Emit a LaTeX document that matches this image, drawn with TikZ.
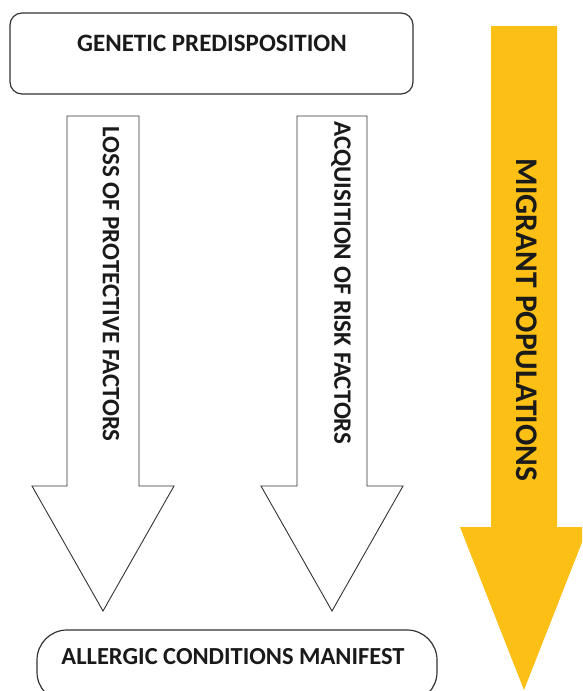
\documentclass[tikz,border=0pt]{standalone}
\usepackage{fontspec}
\setmainfont{Carlito}
\definecolor{gold5}{HTML}{FBBF15}
\definecolor{gray8}{HTML}{333333}
\definecolor{ink}{HTML}{1A1A1A}
\tikzset{
  outline/.style={draw=gray8, line width=1.2pt},
  hollow/.style={draw=gray8, line width=0.9pt, fill=white, line join=miter},
  caption/.style={font=\bfseries\fontsize{25}{29}\selectfont, text=ink, inner sep=0pt},
}
\begin{document}
\begin{tikzpicture}[x=1pt, y=-1pt]
\useasboundingbox (0,0) rectangle (582,691);
\clip (0,0) rectangle (582,691);
% start and end boxes
\draw[outline, rounded corners=12pt] (10,13) rectangle (413,94);
\node[caption] (genetic) at (212,43) {GENETIC PREDISPOSITION};
\draw[outline, rounded corners=30pt] (37,630) rectangle (437,702);
\node[caption, font=\bfseries\fontsize{24.5}{28}\selectfont] (manifest) at (233,657) {ALLERGIC CONDITIONS MANIFEST};
% hollow arrows
\filldraw[hollow, shift={(103,0)}] (-36,116) -- (36,116) -- (36,486) -- (71,486) -- (0,611) -- (-71,486) -- (-36,486) -- cycle;
\filldraw[hollow, shift={(332,0)}] (-35,116) -- (35,116) -- (35,486) -- (71,486) -- (0,611) -- (-71,486) -- (-35,486) -- cycle;
\node[caption, rotate=-90] (loss) at (111,284) {LOSS OF PROTECTIVE FACTORS};
\node[caption, rotate=-90] (risk) at (341,283) {ACQUISITION OF RISK FACTORS};
% migrant arrow
\fill[gold5, shift={(524,0)}] (-33,26) -- (33,26) -- (33,527) -- (64,527) -- (0,690) -- (-64,527) -- (-33,527) -- cycle;
\node[caption, font=\bfseries\fontsize{31.5}{35}\selectfont, rotate=-90] (migrant) at (527,320) {MIGRANT POPULATIONS};
\end{tikzpicture}
\end{document}
